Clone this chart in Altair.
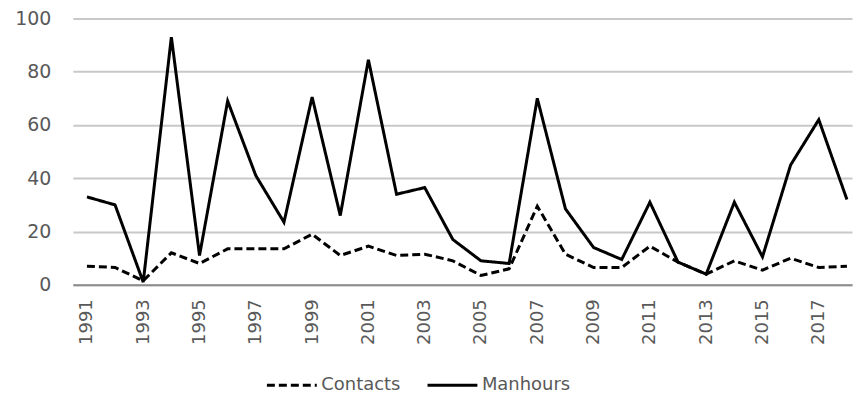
import altair as alt
import pandas as pd

years = list(range(1991, 2019))
manhours = [33, 30, 1, 93, 11, 69, 41, 23.5, 70.5, 26, 84.5, 34, 36.5, 17, 9, 8,
            70, 28.5, 14, 9.5, 31, 8.5, 4, 31, 10.5, 45, 62, 32]
contacts = [7, 6.5, 1.5, 12, 8, 13.5, 13.5, 13.5, 19, 11, 14.5, 11, 11.5, 9, 3.5, 6,
            29.5, 11.5, 6.5, 6.5, 14.5, 8.5, 4, 9, 5.5, 10, 6.5, 7]
series = ["Contacts", "Manhours"]
odd_years = [y for y in years if y % 2 == 1]

rows = []
for i, y in enumerate(years):
    rows.append({"year": y, "series": "Contacts", "value": contacts[i]})
    rows.append({"year": y, "series": "Manhours", "value": manhours[i]})
df = pd.DataFrame(rows)

FONT = "DejaVu Sans"
TXT = "#595959"

chart = alt.Chart(df).mark_line(color="black", strokeWidth=3).encode(
    x=alt.X("year:Q", title=None,
            scale=alt.Scale(domain=[1990.5, 2018.18], nice=False, zero=False),
            axis=alt.Axis(values=odd_years, format="d", labelAngle=-90, labelFont=FONT,
                          labelFontSize=18, labelColor=TXT, ticks=False, labelPadding=14,
                          labelFlush=False, labelOverlap=False,
                          domainColor="#8c8c8c", domainWidth=2, grid=False)),
    y=alt.Y("value:Q", title=None,
            scale=alt.Scale(domain=[0, 100], nice=False),
            axis=alt.Axis(values=[0, 20, 40, 60, 80, 100], labelFont=FONT, labelFontSize=19,
                          labelColor=TXT, ticks=False, domain=False, labelPadding=22,
                          gridColor="#c8c8c8", gridWidth=2)),
    strokeDash=alt.StrokeDash("series:N", title=None,
                              scale=alt.Scale(domain=series, range=[[8, 4], [1, 0]]),
                              legend=alt.Legend(orient="none", legendX=193, legendY=341,
                                                direction="horizontal", labelFont=FONT,
                                                labelFontSize=18, labelColor=TXT,
                                                symbolType="stroke", symbolSize=2500,
                                                symbolStrokeWidth=3, symbolStrokeColor="black",
                                                labelOffset=3, columnPadding=20)),
    detail="series:N",
).properties(
    width=781, height=267,
    padding={"left": 6, "top": 1, "right": 0, "bottom": 0},
).configure_view(stroke=None)

chart.save("out.html", embed_options={"renderer": "svg", "actions": False})
